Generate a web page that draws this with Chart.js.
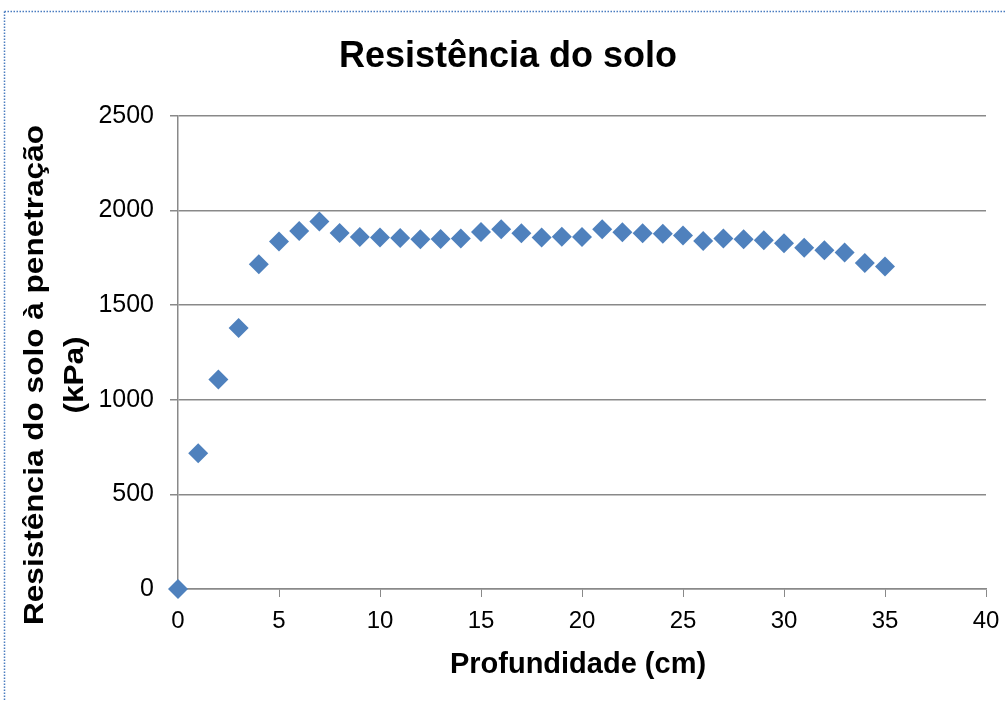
<!DOCTYPE html>
<html>
<head>
<meta charset="utf-8">
<title>Resistência do solo</title>
<script src="https://cdn.jsdelivr.net/npm/chart.js@4.4.1/dist/chart.umd.min.js"></script>
<style>
  html, body { margin: 0; padding: 0; background: #ffffff; }
  #wrap { position: relative; width: 1005px; height: 701px; }
  canvas { display: block; }
</style>
</head>
<body>
<div id="wrap"><canvas id="chart" width="1005" height="701"></canvas></div>
<script>
// Profundidade (cm) e resistência à penetração (kPa)
const depthCm = [0, 1, 2, 3, 4, 5, 6, 7, 8, 9, 10, 11, 12, 13, 14, 15, 16, 17,
  18, 19, 20, 21, 22, 23, 24, 25, 26, 27, 28, 29, 30, 31, 32, 33, 34, 35];
const resistanceKPa = [0, 718, 1107, 1380, 1716, 1837, 1892, 1943, 1881, 1860,
  1858, 1855, 1848, 1850, 1852, 1887, 1901, 1880, 1858, 1862, 1861, 1901, 1885,
  1880, 1878, 1869, 1839, 1852, 1848, 1843, 1827, 1804, 1791, 1779, 1723, 1704];

const chartTitle = 'Resistência do solo';
const xAxisTitle = 'Profundidade (cm)';
const yAxisTitleLines = ['Resistência do solo à penetração', '(kPa)'];

const FONT = '"Liberation Sans", Arial, Helvetica, sans-serif';
const GRID = '#898989';
const MARKER = '#4F81BD';

const points = depthCm.map((d, i) => ({ x: d, y: resistanceKPa[i] }));

// Moldura pontilhada, título e títulos dos eixos
const decorations = {
  id: 'decorations',
  beforeDraw(chart) {
    const ctx = chart.ctx;
    ctx.save();
    ctx.fillStyle = '#ffffff';
    ctx.fillRect(0, 0, chart.width, chart.height);
    ctx.strokeStyle = '#4a7cc0';
    ctx.lineWidth = 1.5;
    ctx.setLineDash([1.5, 1.5]);
    ctx.beginPath();
    ctx.moveTo(4.5, 11.5);
    ctx.lineTo(chart.width, 11.5);
    ctx.moveTo(4.5, 11.5);
    ctx.lineTo(4.5, chart.height);
    ctx.stroke();
    ctx.restore();
  },
  afterDraw(chart) {
    const ctx = chart.ctx;
    ctx.save();
    ctx.fillStyle = '#000000';
    ctx.textAlign = 'center';
    ctx.textBaseline = 'alphabetic';

    ctx.font = 'bold 36px ' + FONT;
    ctx.fillText(chartTitle, 508, 67);

    ctx.font = 'bold 29px ' + FONT;
    ctx.fillText(xAxisTitle, 578, 673);

    // título do eixo Y, rodado 90°
    ctx.font = 'bold 28px ' + FONT;
    const w0 = ctx.measureText(yAxisTitleLines[0]).width;
    const stretch = 500 / w0;
    ctx.translate(43, 375);
    ctx.rotate(-Math.PI / 2);
    ctx.scale(stretch, 1);
    ctx.fillText(yAxisTitleLines[0], 0, 0);
    ctx.fillText(yAxisTitleLines[1], 0, 40);
    ctx.restore();
  }
};

new Chart(document.getElementById('chart'), {
  type: 'scatter',
  data: {
    datasets: [{
      data: points,
      pointStyle: 'rectRot',
      pointRadius: 10,
      pointHoverRadius: 10,
      pointBackgroundColor: MARKER,
      pointBorderWidth: 0,
      borderColor: MARKER,
      backgroundColor: MARKER,
      clip: false
    }]
  },
  options: {
    responsive: false,
    animation: false,
    events: [],
    layout: { padding: { top: 116, right: 19, bottom: 0, left: 0 } },
    plugins: {
      legend: { display: false },
      title: { display: false },
      tooltip: { enabled: false }
    },
    scales: {
      x: {
        type: 'linear',
        min: 0,
        max: 40,
        afterFit(scale) {
          scale.height = 112;
          scale.paddingRight = 0;
          scale.paddingLeft = 0;
        },
        ticks: {
          stepSize: 5,
          padding: 10,
          color: '#000000',
          font: { family: FONT, size: 24 },
          maxRotation: 0,
          callback: (v) => String(v)
        },
        grid: {
          drawOnChartArea: false,
          drawTicks: true,
          tickLength: 8,
          color: GRID,
          lineWidth: 1
        },
        border: { display: true, color: GRID, width: 1.5 }
      },
      y: {
        type: 'linear',
        min: 0,
        max: 2500,
        afterFit(scale) { scale.width = 178; },
        ticks: {
          stepSize: 500,
          padding: 16,
          color: '#000000',
          font: { family: FONT, size: 25 },
          callback: (v) => String(v)
        },
        grid: {
          drawOnChartArea: true,
          drawTicks: true,
          tickLength: 8,
          color: GRID,
          lineWidth: 1.5
        },
        border: { display: true, color: GRID, width: 1.5 }
      }
    }
  },
  plugins: [decorations]
});
</script>
</body>
</html>
